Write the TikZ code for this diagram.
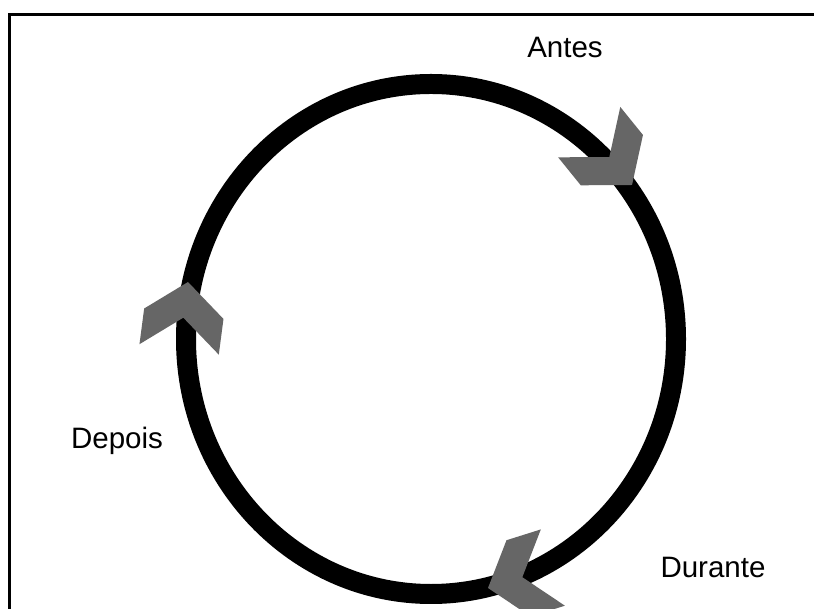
\documentclass[tikz,border=0pt]{standalone}
\usepackage{fontspec}
\setmainfont{Liberation Sans}
\usetikzlibrary{positioning}
\definecolor{arrowgray}{HTML}{666666}
\tikzstyle{lbl} = [draw=none,anchor=base,inner sep=0pt,font=\fontsize{16.8}{20}\selectfont]
\tikzstyle{ring} = [draw=black,line width=20]
\tikzset{chevron/.pic={
	\fill[arrowgray] (0,0) -- (-32,40) -- (-68,40) -- (-36,0) -- (-68,-40) -- (-32,-40) -- cycle;
}}
\begin{document}
\begin{tikzpicture}[x=0.02cm,y=0.02cm]
	\useasboundingbox (0,0) rectangle (814,608);
	\clip (0,0) rectangle (814,608);
	\fill[white] (0,0) rectangle (814,608);
	\draw[line width=2] (9.5,-20) |- (840,593.5);
	%%%%%%%%%%%%%%%
	\coordinate (c) at (431,269);
	\draw[ring,line width=0.4cm] (c) ellipse [x radius=245,y radius=255];
	%%%%%%%%%%%%%%%
	\coordinate (antesTip) at (632,423);
	\coordinate (duranteTip) at (488,20);
	\coordinate (depoisTip) at (188,326);
	\pic[rotate=-51] at (antesTip) {chevron};
	\pic[rotate=-162.5] at (duranteTip) {chevron};
	\pic[rotate=82.5] at (depoisTip) {chevron};
	%%%%%%%%%%%%%%%
	\node[lbl] (antes) at (565,550) {Antes};
	\node[lbl] (durante) at (713,31) {Durante};
	\node[lbl] (depois) at (117,159) {Depois};
\end{tikzpicture}
\end{document}
